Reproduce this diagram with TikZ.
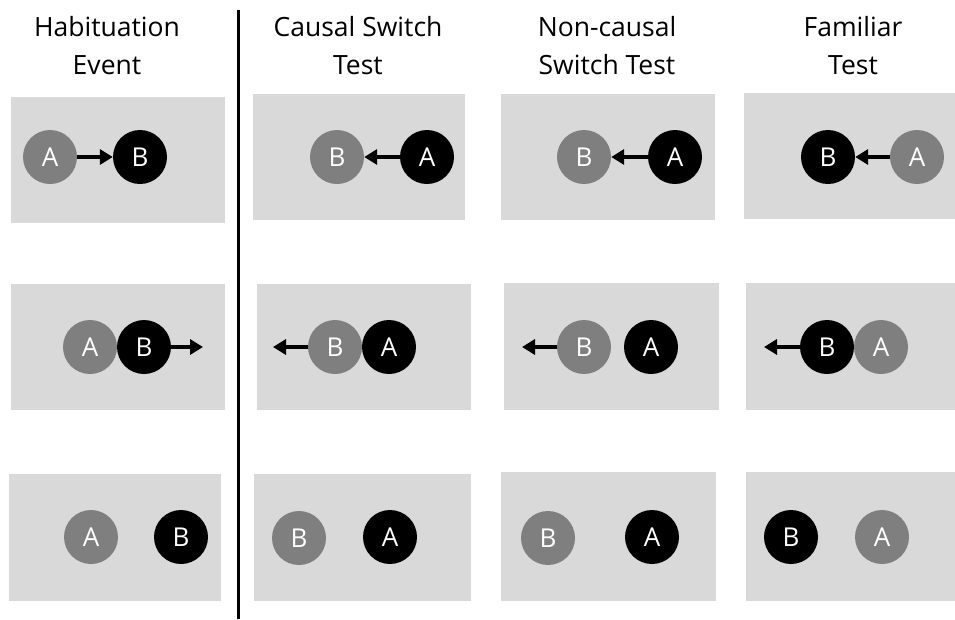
\documentclass[tikz,border=0pt]{standalone}
\usepackage{fontspec}
\setmainfont{Open Sans}
\usetikzlibrary{arrows.meta}
\definecolor{panelgray}{HTML}{D9D9D9}
\definecolor{ballgray}{HTML}{7F7F7F}
\begin{document}
\begin{tikzpicture}[x=1pt,y={(0,-1pt)},
 panel/.style={fill=panelgray},
 ball/.style={circle, minimum size=54pt, inner sep=0pt, text=white, font=\fontsize{26}{30}\selectfont},
 gball/.style={ball, fill=ballgray},
 kball/.style={ball, fill=black},
 title/.style={align=center, font=\fontsize{26.5}{38}\selectfont},
 push/.style={line width=4pt, -{Triangle[length=13pt,width=15pt]}},
 divider/.style={line width=3pt}
]
\useasboundingbox (0,0) rectangle (955,619);
% titles
\node[title] (t1) at (107,46) {Habituation\\Event};
\node[title] (t2) at (358,46) {Causal Switch\\Test};
\node[title] (t3) at (607,46) {Non-causal\\Switch Test};
\node[title] (t4) at (853,46) {Familiar\\Test};
% divider
\draw[divider] (238,10) -- (238,619);
% panels
\path[panel] (11,97) rectangle (225,223);
\path[panel] (253,94) rectangle (465,220);
\path[panel] (501,94) rectangle (715,220);
\path[panel] (744,93) rectangle (955,219);
\path[panel] (11,284) rectangle (225,410);
\path[panel] (257,284) rectangle (471,410);
\path[panel] (504,283) rectangle (719,410);
\path[panel] (746,283) rectangle (955,410);
\path[panel] (9,474) rectangle (221,601);
\path[panel] (254,474) rectangle (471,601);
\path[panel] (501,472) rectangle (716,601);
\path[panel] (746,472) rectangle (955,601);
% row 1
\node[gball] (a11) at (50,157) {A};
\node[kball] (b11) at (140,157) {B};
\draw[push] (a11) -- (b11);
\node[gball] (b12) at (337,157) {B};
\node[kball] (a12) at (427,157) {A};
\draw[push] (a12) -- (b12);
\node[gball] (b13) at (584,157) {B};
\node[kball] (a13) at (675,157) {A};
\draw[push] (a13) -- (b13);
\node[kball] (b14) at (828,157) {B};
\node[gball] (a14) at (917,157) {A};
\draw[push] (a14) -- (b14);
% row 2
\node[gball] (a21) at (90,347) {A};
\node[kball] (b21) at (144,347) {B};
\coordinate (e21) at (203,347);
\draw[push] (b21) -- (e21);
\node[gball] (b22) at (335,347) {B};
\node[kball] (a22) at (389,347) {A};
\coordinate (e22) at (273,347);
\draw[push] (b22) -- (e22);
\node[gball] (b23) at (584,347) {B};
\node[kball] (a23) at (651,347) {A};
\coordinate (e23) at (522,347);
\draw[push] (b23) -- (e23);
\node[kball] (b24) at (827,347) {B};
\node[gball] (a24) at (881,347) {A};
\coordinate (e24) at (764,347);
\draw[push] (b24) -- (e24);
% row 3
\node[gball] (a31) at (91,537) {A};
\node[kball] (b31) at (181,537) {B};
\node[gball] (b32) at (299,538) {B};
\node[kball] (a32) at (390,537) {A};
\node[gball] (b33) at (548,538) {B};
\node[kball] (a33) at (652,537) {A};
\node[kball] (b34) at (791,537) {B};
\node[gball] (a34) at (882,537) {A};
\end{tikzpicture}
\end{document}
